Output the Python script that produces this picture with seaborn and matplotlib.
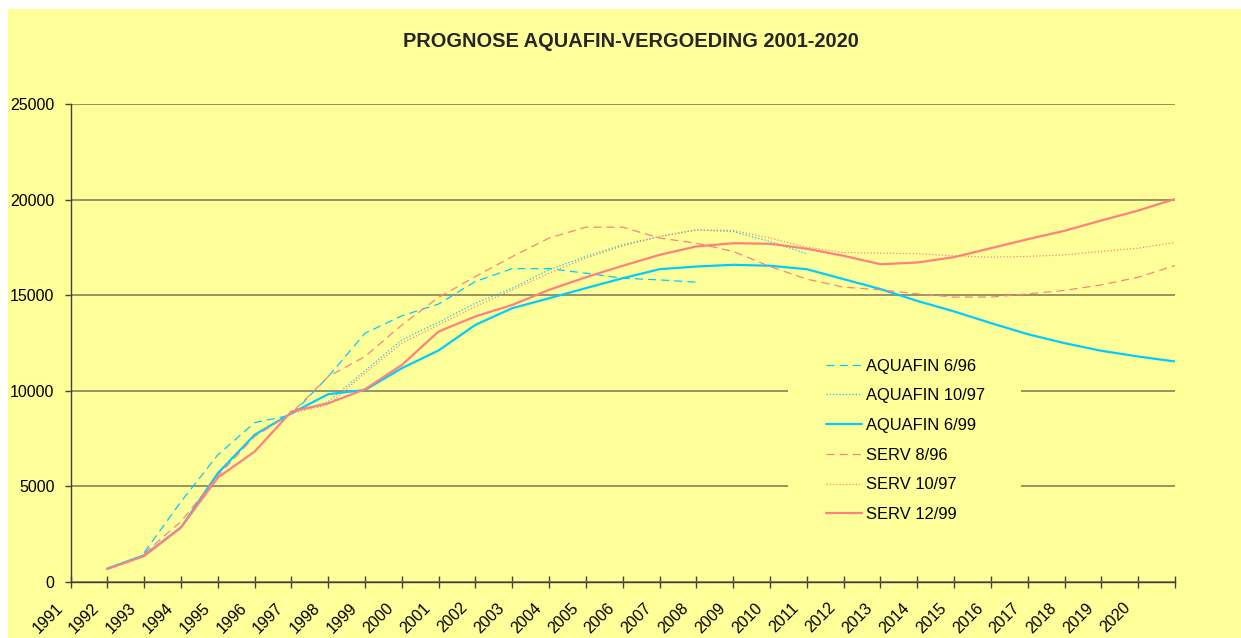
import numpy as np
import matplotlib
matplotlib.use("Agg")
import matplotlib.pyplot as plt
import matplotlib.transforms as mtransforms
from matplotlib.patches import Rectangle
import seaborn as sns

# --- DATA ---
years = list(range(1991, 2022))
nan = np.nan

aquafin_696 = [nan, nan, 1540, 4200, 6650, 8340, 8740, 10750, 13020, 13930,
               14550, 15730, 16400, 16400, 16160, 15900, 15810, 15690, nan, nan,
               nan, nan, nan, nan, nan, nan, nan, nan, nan, nan, nan]
aquafin_1097 = [nan, nan, nan, nan, nan, nan, 8830, 9440, 11060, 12670,
                13600, 14590, 15380, 16340, 17040, 17650, 18080, 18430, 18340, 17820,
                17180, nan, nan, nan, nan, nan, nan, nan, nan, nan, nan]
aquafin_699 = [nan, 700, 1400, 2850, 5690, 7700, 8830, 9830, 10050, 11190,
               12120, 13460, 14330, 14850, 15380, 15900, 16370, 16510, 16600, 16550,
               16370, 15850, 15330, 14710, 14160, 13550, 12970, 12500, 12100, 11800,
               11540]
serv_896 = [nan, nan, 1500, 3160, 5550, 7610, 8830, 10750, 11800, 13450,
            14900, 15990, 17030, 18000, 18570, 18570, 18000, 17730, 17300, 16510,
            15850, 15430, 15290, 15080, 14910, 14910, 15080, 15260, 15550, 15950,
            16560]
serv_1097 = [nan, nan, nan, nan, nan, nan, 8830, 9270, 10930, 12500,
             13460, 14420, 15290, 16160, 16950, 17590, 18080, 18430, 18400, 18000,
             17520, 17240, 17210, 17180, 17070, 17000, 17040, 17120, 17300, 17470,
             17770]
serv_1299 = [nan, 680, 1360, 2850, 5460, 6820, 8920, 9350, 10090, 11360,
             13110, 13900, 14500, 15290, 15950, 16550, 17120, 17560, 17730, 17700,
             17440, 17070, 16630, 16720, 17000, 17470, 17940, 18380, 18920, 19440,
             20040]

series_names = ["AQUAFIN 6/96", "AQUAFIN 10/97", "AQUAFIN 6/99",
                "SERV 8/96", "SERV 10/97", "SERV 12/99"]
series_values = [aquafin_696, aquafin_1097, aquafin_699,
                 serv_896, serv_1097, serv_1299]
y_ticks = [0, 5000, 10000, 15000, 20000, 25000]
x_labels = [str(y) for y in years[:-1]] + [""]

# --- STYLE ---
sns.set_theme(style="white")
plt.rcParams["font.family"] = ["Liberation Sans", "DejaVu Sans"]

cyan = "#00CCFF"
pink = "#FF8080"
styles = [
    dict(color=cyan, lw=0.9, dashes=(6.5, 4)),
    dict(color=cyan, lw=0.9, dashes=(1, 1.6)),
    dict(color=cyan, lw=1.6, dashes=None),
    dict(color=pink, lw=0.9, dashes=(6.5, 4)),
    dict(color=pink, lw=0.9, dashes=(1, 1.6)),
    dict(color=pink, lw=1.6, dashes=None),
]

W, H = 1241, 638
fig = plt.figure(figsize=(W / 100, H / 100), dpi=100, facecolor="white")
fig.add_artist(Rectangle((8 / W, 0), 1 - 8 / W, 1 - 9 / H, transform=fig.transFigure,
                         facecolor="#FFFF99", edgecolor="none", zorder=-10))

ax = fig.add_axes([70.5 / W, (H - 582) / H, (1175 - 70.5) / W, (582 - 104.3) / H])
ax.set_facecolor("none")
ax.set_axisbelow(True)

for name, vals, st in zip(series_names, series_values, styles):
    sns.lineplot(x=years, y=vals, ax=ax, color=st["color"], linewidth=st["lw"],
                 label=name, zorder=3)
    ln = ax.get_lines()[-1]
    if st["dashes"] is not None:
        ln.set_dashes(st["dashes"])

ax.set_xlim(1991, 2021)
ax.set_ylim(0, 25000)
ax.set_yticks(y_ticks)
ax.set_yticklabels([str(v) for v in y_ticks])
ax.set_xticks(years)
ax.set_xticklabels(x_labels, rotation=45, ha="right")

ax.yaxis.grid(True, color="#85805A", linewidth=1.2)
ax.xaxis.grid(False)
for side in ["top", "right"]:
    ax.spines[side].set_visible(False)
for side in ["left", "bottom"]:
    ax.spines[side].set_color("#404040")
    ax.spines[side].set_linewidth(1.0)
    ax.spines[side].set_zorder(4)

ax.tick_params(axis="y", direction="out", length=4.3, width=1, color="#404040",
               pad=7.2, labelsize=11.5, labelcolor="black", left=True)
ax.tick_params(axis="x", direction="inout", length=8, width=1, color="#404040",
               pad=9, labelsize=11.5, labelcolor="black", bottom=True)
shift = mtransforms.ScaledTranslation(-5 / 100, 0, fig.dpi_scale_trans)
for lab in ax.get_xticklabels():
    lab.set_transform(lab.get_transform() + shift)

ax.set_xlabel("")
ax.set_ylabel("")

# yellow legend area that hides the grid lines but sits below the data lines
ax.add_artist(Rectangle((788 / W, (H - 548) / H), (1021 - 788) / W, (548 - 338) / H,
                        transform=fig.transFigure, facecolor="#FFFF99",
                        edgecolor="none", zorder=1))

leg = ax.legend(loc="upper left", bbox_to_anchor=(826 / W, 1 - 358.5 / H),
                bbox_transform=fig.transFigure, borderaxespad=0, frameon=False,
                fontsize=11.9, handlelength=2.18, handletextpad=0.25,
                labelspacing=0.89, borderpad=0)
for txt in leg.get_texts():
    txt.set_color("black")

fig.text(630.5 / W, 1 - 47.3 / H, "PROGNOSE AQUAFIN-VERGOEDING 2001-2020",
         ha="center", va="baseline", fontsize=14.4, fontweight="bold")

fig.savefig("out.png", dpi=100, facecolor="white")
